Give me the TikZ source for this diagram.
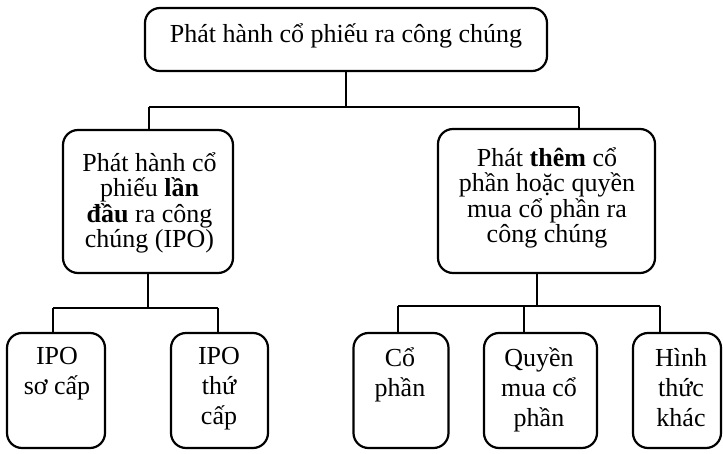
\documentclass[tikz,border=0pt]{standalone}
\usepackage{fontspec}
\setmainfont{Liberation Serif}
\newcommand\boxfont{\fontsize{26}{25.5}\selectfont\lineskiplimit=-100pt\lineskip=0pt\relax}
\newcommand\leafont{\fontsize{26}{30}\selectfont\lineskiplimit=-100pt\lineskip=0pt\relax}
\newcommand\lead{\rule{0pt}{26pt}}
\tikzset{
  box/.style={draw, line width=2.2pt, rounded corners=15pt, inner sep=0pt},
  lbl/.style={anchor=north, align=center, inner sep=0pt, font=\boxfont},
  leaflbl/.style={lbl, font=\leafont},
  link/.style={line width=2.2pt},
}
\begin{document}
\begin{tikzpicture}[x=1pt, y=-1pt]
\useasboundingbox (0,0) rectangle (723,454);

% boxes
\node[box, minimum width=402pt, minimum height=63pt] (top) at (346,39.5) {};
\node[box, minimum width=170pt, minimum height=143pt] (ml) at (148,201.5) {};
\node[box, minimum width=217pt, minimum height=144pt] (mr) at (546.5,201) {};
\node[box, minimum width=98pt, minimum height=115pt] (b1) at (56,390.5) {};
\node[box, minimum width=97pt, minimum height=115pt] (b2) at (219.5,390.5) {};
\node[box, minimum width=95pt, minimum height=115pt] (b3) at (401,390.5) {};
\node[box, minimum width=113pt, minimum height=115pt] (b4) at (540.5,390.5) {};
\node[box, minimum width=88pt, minimum height=115pt] (b5) at (677,390.5) {};

% texts
\node[lbl] (ttop) at (346,16) {\lead Phát hành cổ phiếu ra công chúng};
\node[lbl] (tml) at (149.5,145) {\lead Phát hành cổ\\phiếu \textbf{lần}\\\textbf{đầu} ra công\\chúng (IPO)};
\node[lbl] (tmr) at (547,140) {\lead Phát \textbf{thêm} cổ\\phần hoặc quyền\\mua cổ phần ra\\công chúng};
\node[leaflbl] (tb1) at (57,338) {\lead IPO\\sơ cấp};
\node[leaflbl] (tb2) at (219,338) {\lead IPO\\thứ\\cấp};
\node[leaflbl] (tb3) at (400,340) {\lead Cổ\\phần};
\node[leaflbl] (tb4) at (539,340) {\lead Quyền\\mua cổ\\phần};
\node[leaflbl] (tb5) at (681,340) {\lead Hình\\thức\\khác};

% junction points
\coordinate (j1) at (149,107);
\coordinate (j2) at (579,107);
\coordinate (j3) at (53,308);
\coordinate (j4) at (218,308);
\coordinate (k0) at (537,306);
\coordinate (k1) at (398,306);
\coordinate (k2) at (524,306);
\coordinate (k3) at (660,306);

% connectors
\draw[link] (top.south) -- (top.south |- j1);
\draw[link] (j1) -- (j2);
\draw[link] (j1) -- (j1 |- ml.north);
\draw[link] (j2) -- (j2 |- mr.north);

\draw[link] (ml.south) -- (ml.south |- j3);
\draw[link] (j3) -- (j4);
\draw[link] (j3) -- (j3 |- b1.north);
\draw[link] (j4) -- (j4 |- b2.north);

\draw[link] (k0 |- mr.south) -- (k0);
\draw[link] (k1) -- (k3);
\draw[link] (k1) -- (k1 |- b3.north);
\draw[link] (k2) -- (k2 |- b4.north);
\draw[link] (k3) -- (k3 |- b5.north);
\end{tikzpicture}
\end{document}
